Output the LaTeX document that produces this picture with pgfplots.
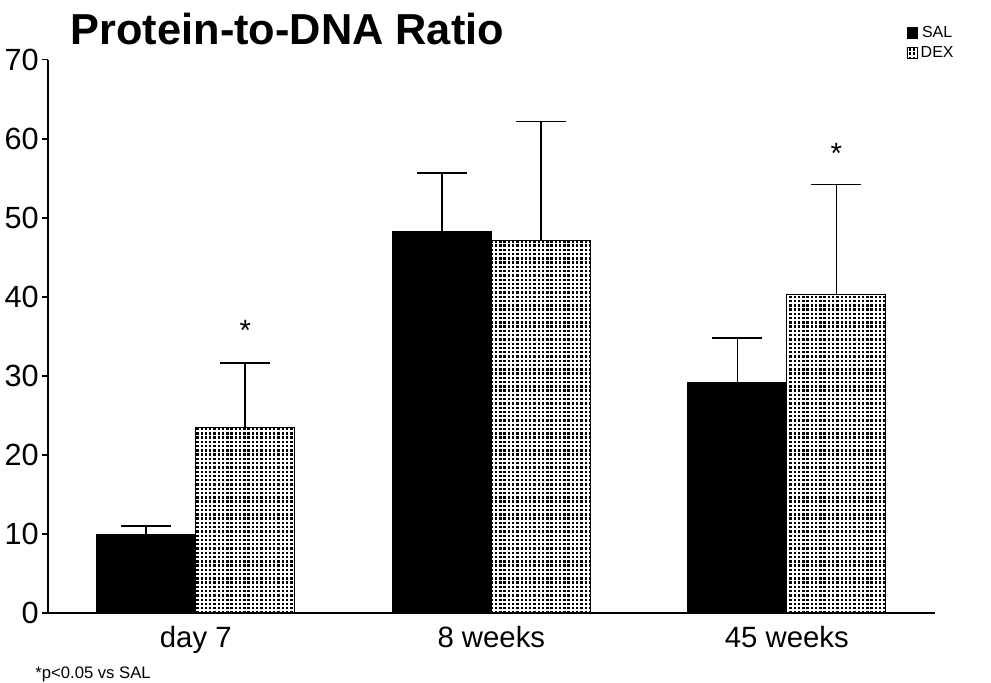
\documentclass[border=0pt]{standalone}
\usepackage{fontspec}
\setmainfont{Liberation Sans}
\usepackage{pgfplots}
\pgfplotsset{compat=1.18}
\usetikzlibrary{patterns}
\pgfdeclarepatternformonly{densedots}{\pgfqpoint{-1pt}{-1pt}}{\pgfqpoint{4pt}{4pt}}{\pgfqpoint{3.2pt}{3.2pt}}{%
  \pgfpathrectangle{\pgfqpoint{0pt}{0pt}}{\pgfqpoint{1.8pt}{1.8pt}}\pgfusepath{fill}}
\begin{document}
\begin{tikzpicture}
\path[use as bounding box] (0,0) rectangle (743.25pt,511.5pt);
\begin{axis}[
  at={(36pt,51.75pt)}, anchor=south west,
  scale only axis, width=665pt, height=415pt,
  xmin=-0.5, xmax=2.5, ymin=0, ymax=70,
  axis lines*=left,
  axis line style={line width=1.4pt},
  xtick={0,1,2}, xticklabels={day 7, 8 weeks, 45 weeks},
  x tick style={draw=none},
  ytick={0,10,...,70},
  tick align=outside, major tick length=4.5pt,
  y tick style={line width=1.2pt, black},
  /pgf/number format/assume math mode=true,
  xticklabel style={font=\fontsize{22}{26}\selectfont, yshift=-2pt},
  yticklabel style={font=\fontsize{23}{26}\selectfont, xshift=1pt},
  clip=false,
  legend style={at={(rel axis cs:0.968,1.066)}, anchor=north west, draw=none,
    font=\fontsize{12}{13}\selectfont, row sep=1.5pt, inner sep=0pt,
    /tikz/every even column/.append style={column sep=5pt}},
  legend image code/.code={\draw[#1, line width=0.6pt] (0pt,-4pt) rectangle (8pt,4pt);},
  error bars/y dir=plus, error bars/y explicit,
  error bars/error bar style={line width=1.2pt, black},
  error bars/error mark options={rotate=90, mark size=18.75pt, line width=1.2pt, black},
]
\addplot[ybar, bar width=0.335, bar shift=0, fill=black, draw=black, line width=0.8pt]
  table[x=x, y=y, y error=e] {
x y e
-0.1675 9.9 1.1
0.8325 48.2 7.5
1.8325 29.1 5.7
};
\addlegendentry{SAL}
\addplot[ybar, bar width=0.335, bar shift=0, pattern=densedots, draw=black, line width=0.8pt]
  table[x=x, y=y, y error=e] {
x y e
0.1675 23.5 8.1
1.1675 47.1 15.1
2.1675 40.3 13.9
};
\addlegendentry{DEX}
\node[font=\fontsize{22}{24}\selectfont] at (axis cs:0.1675,35.8) {*};
\node[font=\fontsize{22}{24}\selectfont] at (axis cs:2.1675,58.2) {*};
\node[font=\bfseries\fontsize{32.5}{36}\selectfont, anchor=base] at (rel axis cs:0.27,1.028) {Protein-to-DNA Ratio};
\end{axis}
\node[anchor=base west, font=\fontsize{12.5}{14}\selectfont] at (23pt,3pt) {*p<0.05 vs SAL};
\end{tikzpicture}
\end{document}
